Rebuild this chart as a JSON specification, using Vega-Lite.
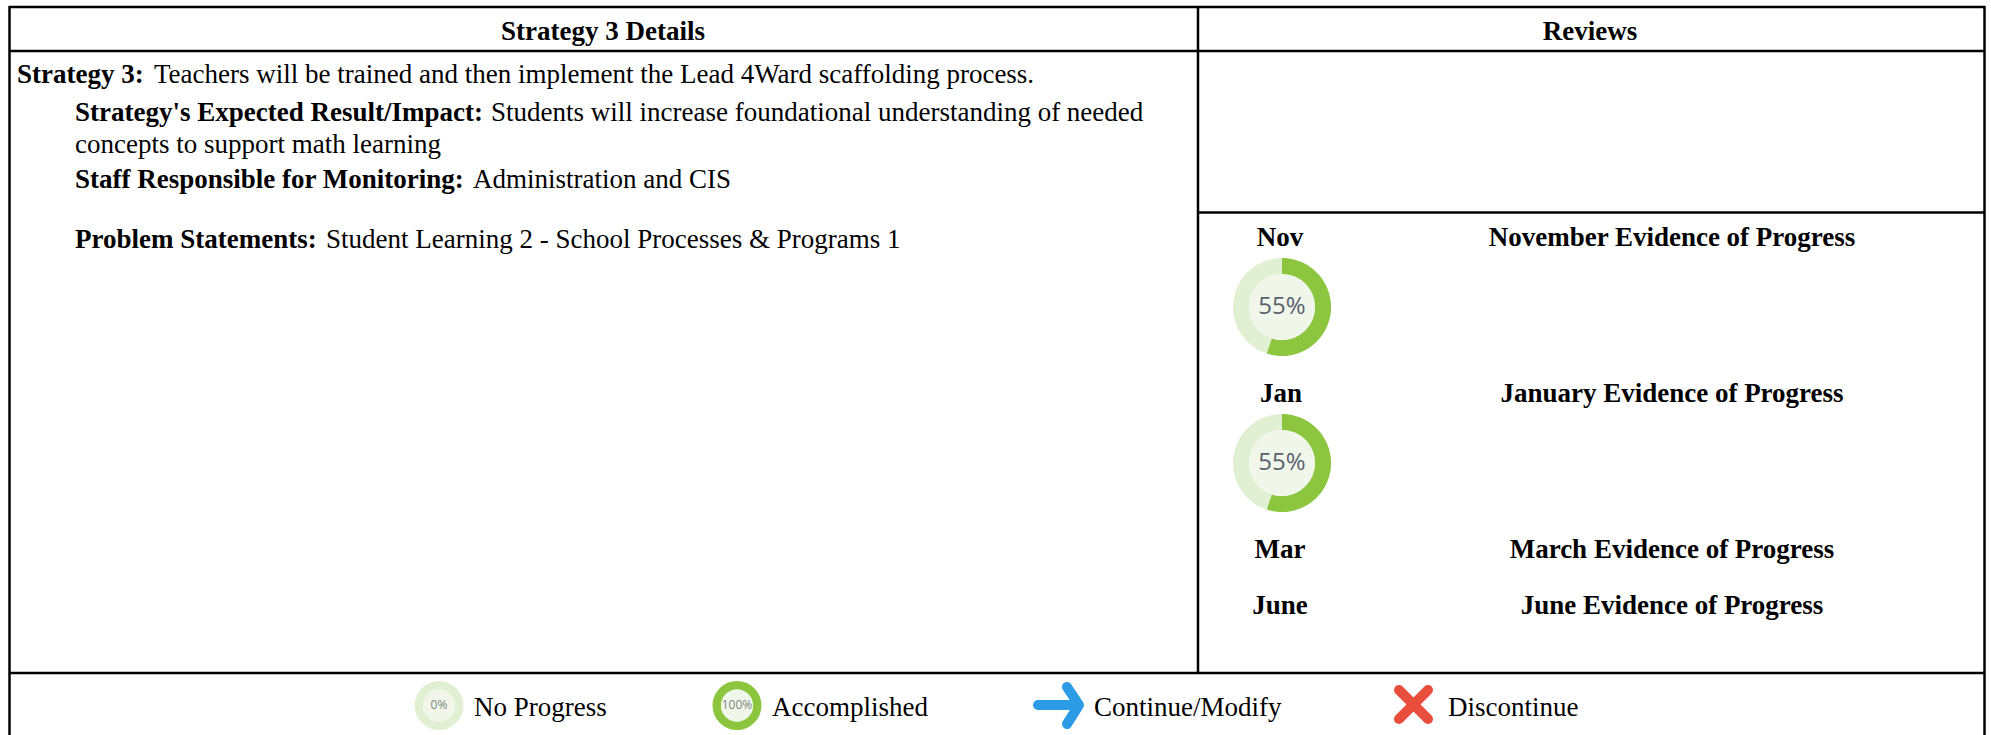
{"$schema":"https://vega.github.io/schema/vega-lite/v6.json","width":1991,"height":735,"autosize":{"type":"none"},"padding":0,"background":"white","view":{"stroke":null},
"config":{"text":{"font":"Liberation Serif","fontSize":27,"color":"#000"}},
"datasets":{
"rules":[{"x":9,"x2":1985,"y":7,"y2":7},{"x":9,"x2":1985,"y":51,"y2":51},{"x":9.5,"x2":9.5,"y":6,"y2":735},{"x":1984.5,"x2":1984.5,"y":6,"y2":735},{"x":1198,"x2":1198,"y":6,"y2":673},{"x":1198,"x2":1985,"y":212.5,"y2":212.5},{"x":9,"x2":1985,"y":673,"y2":673}],
"arcs":[
{"cx":1282,"cy":307,"a":0,"b":100,"r":49,"r2":33,"c":"track"},
{"cx":1282,"cy":307,"a":0,"b":55,"r":49,"r2":33,"c":"done"},
{"cx":1282,"cy":307,"a":0,"b":100,"r":33,"r2":0,"c":"core"},
{"cx":1282,"cy":463,"a":0,"b":100,"r":49,"r2":33,"c":"track"},
{"cx":1282,"cy":463,"a":0,"b":55,"r":49,"r2":33,"c":"done"},
{"cx":1282,"cy":463,"a":0,"b":100,"r":33,"r2":0,"c":"core"},
{"cx":439,"cy":705.5,"a":0,"b":100,"r":24.5,"r2":16,"c":"track"},
{"cx":439,"cy":705.5,"a":0,"b":100,"r":16,"r2":0,"c":"core"},
{"cx":737,"cy":705.5,"a":0,"b":100,"r":24.5,"r2":16,"c":"done"},
{"cx":737,"cy":705.5,"a":0,"b":100,"r":16,"r2":0,"c":"core"}],
"pct":[{"x":1282,"y":307,"t":"55%"},{"x":1282,"y":463,"t":"55%"}],
"pctSmall":[{"x":439,"y":705,"t":"0%"},{"x":737,"y":705,"t":"100%"}],
"boldCenter":[{"x":603,"y":32,"t":"Strategy 3 Details"},{"x":1590,"y":32,"t":"Reviews"},{"x":1280,"y":238,"t":"Nov"},{"x":1672,"y":238,"t":"November Evidence of Progress"},{"x":1281,"y":394,"t":"Jan"},{"x":1672,"y":394,"t":"January Evidence of Progress"},{"x":1280,"y":550,"t":"Mar"},{"x":1672,"y":550,"t":"March Evidence of Progress"},{"x":1280,"y":606,"t":"June"},{"x":1672,"y":606,"t":"June Evidence of Progress"}],
"boldLeft":[{"x":17,"y":75,"t":"Strategy 3:"},{"x":75,"y":113,"t":"Strategy's Expected Result/Impact:"},{"x":75,"y":180,"t":"Staff Responsible for Monitoring:"},{"x":75,"y":240,"t":"Problem Statements:"}],
"regLeft":[{"x":154,"y":75,"t":"Teachers will be trained and then implement the Lead 4Ward scaffolding process."},{"x":491,"y":113,"t":"Students will increase foundational understanding of needed"},{"x":75,"y":145,"t":"concepts to support math learning"},{"x":473,"y":180,"t":"Administration and CIS"},{"x":326,"y":240,"t":"Student Learning 2 - School Processes & Programs 1"},{"x":474,"y":708,"t":"No Progress"},{"x":772,"y":708,"t":"Accomplished"},{"x":1094,"y":708,"t":"Continue/Modify"},{"x":1448,"y":708,"t":"Discontinue"}],
"arrow":[{"s":"shaft","o":1,"x":1038,"y":705},{"s":"shaft","o":2,"x":1078,"y":705},{"s":"head","o":1,"x":1067,"y":687},{"s":"head","o":2,"x":1079,"y":705},{"s":"head","o":3,"x":1067,"y":724}],
"cross":[{"x":1399,"x2":1428,"y":690,"y2":719},{"x":1428,"x2":1399,"y":690,"y2":719}]
},
"encoding":{
"x":{"field":"x","type":"quantitative","scale":{"domain":[0,1991],"nice":false,"zero":false},"axis":null},
"y":{"field":"y","type":"quantitative","scale":{"domain":[735,0],"nice":false,"zero":false},"axis":null}},
"layer":[
{"data":{"name":"rules"},"mark":{"type":"rule","color":"#000","strokeWidth":2.5},"encoding":{"x2":{"field":"x2"},"y2":{"field":"y2"}}},
{"data":{"name":"arcs"},"mark":{"type":"arc"},"encoding":{
"x":{"field":"cx","type":"quantitative"},"y":{"field":"cy","type":"quantitative"},
"theta":{"field":"a","type":"quantitative","stack":null,"scale":{"domain":[0,100],"range":[0,6.2832]}},"theta2":{"field":"b"},
"radius":{"field":"r","type":"quantitative","scale":{"type":"linear","domain":[0,100],"range":[0,100],"zero":true}},"radius2":{"field":"r2"},
"color":{"field":"c","type":"nominal","legend":null,"scale":{"domain":["track","done","core"],"range":["#e1f0d2","#8cc63f","#f0f7ea"]}}}},
{"data":{"name":"pct"},"mark":{"type":"text","font":"Open Sans","fontSize":24,"color":"#5a5f6e","align":"center","baseline":"middle"},"encoding":{"text":{"field":"t"}}},
{"data":{"name":"pctSmall"},"mark":{"type":"text","font":"Open Sans","fontSize":12,"color":"#7d8580","align":"center","baseline":"middle"},"encoding":{"text":{"field":"t"}}},
{"data":{"name":"boldCenter"},"mark":{"type":"text","fontWeight":"bold","align":"center","baseline":"middle"},"encoding":{"text":{"field":"t"}}},
{"data":{"name":"boldLeft"},"mark":{"type":"text","fontWeight":"bold","align":"left","baseline":"middle"},"encoding":{"text":{"field":"t"}}},
{"data":{"name":"regLeft"},"mark":{"type":"text","align":"left","baseline":"middle"},"encoding":{"text":{"field":"t"}}},
{"data":{"name":"arrow"},"mark":{"type":"line","color":"#2b9be6","strokeWidth":10,"strokeCap":"round","strokeJoin":"round"},"encoding":{"detail":{"field":"s"},"order":{"field":"o"}}},
{"data":{"name":"cross"},"mark":{"type":"rule","color":"#e94e3d","strokeWidth":10,"strokeCap":"round"},"encoding":{"x2":{"field":"x2"},"y2":{"field":"y2"}}}
]}
